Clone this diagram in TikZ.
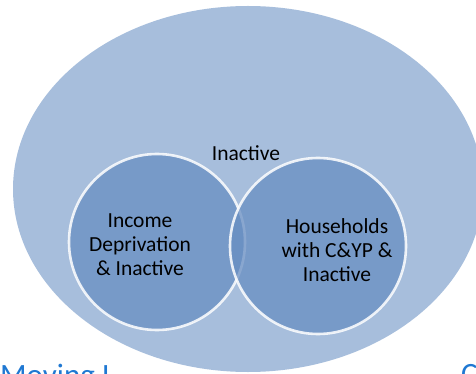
\documentclass[tikz,border=0pt]{standalone}
\usepackage{fontspec}
\setmainfont{Carlito}
\usetikzlibrary{positioning,shapes.geometric}
\definecolor{outerblue}{RGB}{167,190,220}
\definecolor{innerblue}{RGB}{104,142,194}
\definecolor{linkblue}{RGB}{31,120,210}
\tikzset{
  outer/.style={ellipse,fill=outerblue,draw=none,minimum width=470pt,minimum height=366pt,inner sep=0pt},
  group/.style={circle,fill=innerblue,fill opacity=0.75,draw=white,draw opacity=0.85,line width=2.6pt,minimum size=176pt,inner sep=0pt},
  label/.style={align=center,inner sep=0pt,font=\fontsize{21.5}{24}\selectfont},
  cut/.style={font=\fontsize{31}{33}\selectfont,text=linkblue,anchor=north west,inner sep=0pt}
}
\begin{document}
\begin{tikzpicture}[x=1pt,y=-1pt]
  \useasboundingbox (0,0) rectangle (476,374);
  \clip (0,0) rectangle (476,374);
  \node[outer] (all) at (248,189) {};
  \node[label] (inactive) at (246,153) {Inactive};
  \node[group] (income) at (157,242) {};
  \node[group] (house) at (318,246) {};
  \node[label] (incometxt) at (140,245) {Income\\Deprivation\\\& Inactive};
  \node[label] (housetxt) at (337,250) {Households\\with C\&YP \&\\Inactive};
  \node[cut] (moving) at (0,364) {Moving I};
  \node[cut] (cword) at (461,364) {C};
\end{tikzpicture}
\end{document}
